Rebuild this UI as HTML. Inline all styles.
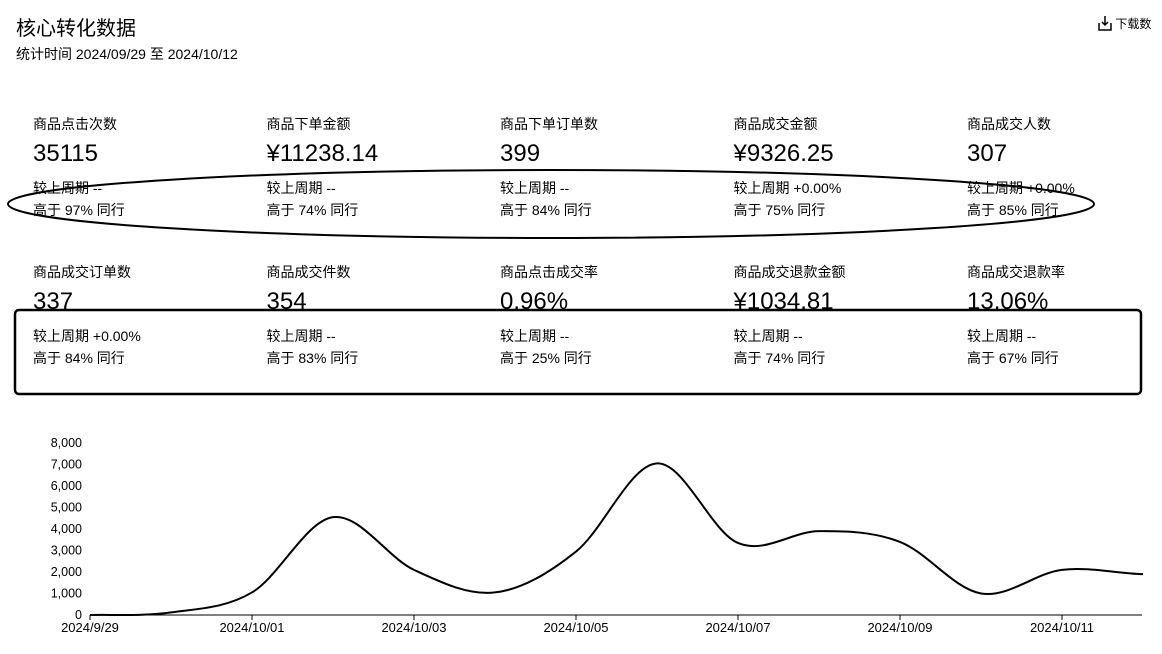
<!DOCTYPE html>
<html><head><meta charset="utf-8"><style>
body{margin:0;width:1162px;height:654px;background:#fff;font-family:"Liberation Sans","Noto Sans CJK SC",sans-serif;color:#000;position:relative;overflow:hidden}
.a{position:absolute;white-space:nowrap;line-height:1}
.t{font-size:20px;left:16px;top:19px}
.s{font-size:14px;left:16px;top:47px}
</style></head><body>
<div class="a t">核心转化数据</div>
<div class="a s">统计时间 2024/09/29 至 2024/10/12</div>
<div class="a" style="left:1098px;top:15px;font-size:12px"><svg width="14" height="16" style="vertical-align:-3px" viewBox="0 0 14 16"><path d="M7 1v9M4 7l3 3 3-3M1 8v7h12V8" fill="none" stroke="#000" stroke-width="1.5"/></svg> 下载数</div>
<div id="cards"></div>
<svg class="a" style="left:0;top:0" width="1162" height="420">
<ellipse cx="551" cy="204" rx="543" ry="34" fill="none" stroke="#000" stroke-width="2"/>
<rect x="15" y="310" width="1126" height="84" rx="4" fill="none" stroke="#000" stroke-width="2.5"/>
</svg>
<svg class="a" style="left:0;top:420px" width="1162" height="234" id="chart"></svg>
<script>
const rows=[
[["商品点击次数","35115","较上周期 --","高于 97% 同行"],["商品下单金额","¥11238.14","较上周期 --","高于 74% 同行"],["商品下单订单数","399","较上周期 --","高于 84% 同行"],["商品成交金额","¥9326.25","较上周期 +0.00%","高于 75% 同行"],["商品成交人数","307","较上周期 +0.00%","高于 85% 同行"]],
[["商品成交订单数","337","较上周期 +0.00%","高于 84% 同行"],["商品成交件数","354","较上周期 --","高于 83% 同行"],["商品点击成交率","0.96%","较上周期 --","高于 25% 同行"],["商品成交退款金额","¥1034.81","较上周期 --","高于 74% 同行"],["商品成交退款率","13.06%","较上周期 --","高于 67% 同行"]]];
const cards=document.getElementById('cards');
function put(txt,x,cy,fs,name){
 const d=document.createElement('div');d.className='a';d.style.left=x+'px';d.style.top=(cy-fs/2)+'px';d.style.fontSize=fs+'px';d.textContent=txt;
 
 
 cards.appendChild(d);
}
rows.forEach((r,ri)=>r.forEach((c,ci)=>{
 const x=33+ci*233.5,y=ri?272:124;
 put(c[0],x,y,14,'metric-label');
 put(c[1],x,y+30,24,'metric-value');
 put(c[2],x,y+64,14,'metric-compare');
 put(c[3],x,y+86,14,'metric-peer');
}));
</script>
<script>
const categories=["2024/9/29","2024/9/30","2024/10/01","2024/10/02","2024/10/03","2024/10/04","2024/10/05","2024/10/06","2024/10/07","2024/10/08","2024/10/09","2024/10/10","2024/10/11","2024/10/12"];
const values=[0,120,1050,4550,2100,1050,2950,7050,3350,3900,3400,1000,2100,1900];
const yTicks=[0,1000,2000,3000,4000,5000,6000,7000,8000];
const NS="http://www.w3.org/2000/svg",svg=document.getElementById('chart');
const x0=90,dx=81,yb=195,ys=172/8000;
const X=i=>x0+i*dx,Y=v=>yb-v*ys;
function el(t,a,txt){const e=document.createElementNS(NS,t);for(const k in a)e.setAttribute(k,a[k]);if(txt!=null)e.textContent=txt;svg.appendChild(e);return e;}
yTicks.forEach(v=>{const e=el('text',{x:82,y:Y(v)+4,'text-anchor':'end','font-size':12.5,'font-family':'Liberation Sans'},v.toLocaleString('en-US'));

});
const ax=el('line',{x1:x0,x2:1142,y1:yb,y2:yb,stroke:'#000','stroke-width':1});


categories.forEach((c,i)=>{if(i%2)return;el('line',{x1:X(i),x2:X(i),y1:yb,y2:yb+5,stroke:'#000'});
const t=el('text',{x:X(i),y:yb+17,'text-anchor':'middle','font-size':13,'font-family':'Liberation Sans'},c);

});
let d=`M${X(0)},${Y(values[0])}`;
for(let i=0;i<values.length-1;i++){
 const p0=values[Math.max(i-1,0)],p1=values[i],p2=values[i+1],p3=values[Math.min(i+2,values.length-1)];
 const c1=p1+(p2-p0)/6,c2=p2-(p3-p1)/6;
 d+=` C${X(i)+dx/3},${Y(c1)} ${X(i+1)-dx/3},${Y(c2)} ${X(i+1)},${Y(p2)}`;
}
const ln=el('path',{d:d,fill:'none',stroke:'#000','stroke-width':2});


</script>
</body></html>
